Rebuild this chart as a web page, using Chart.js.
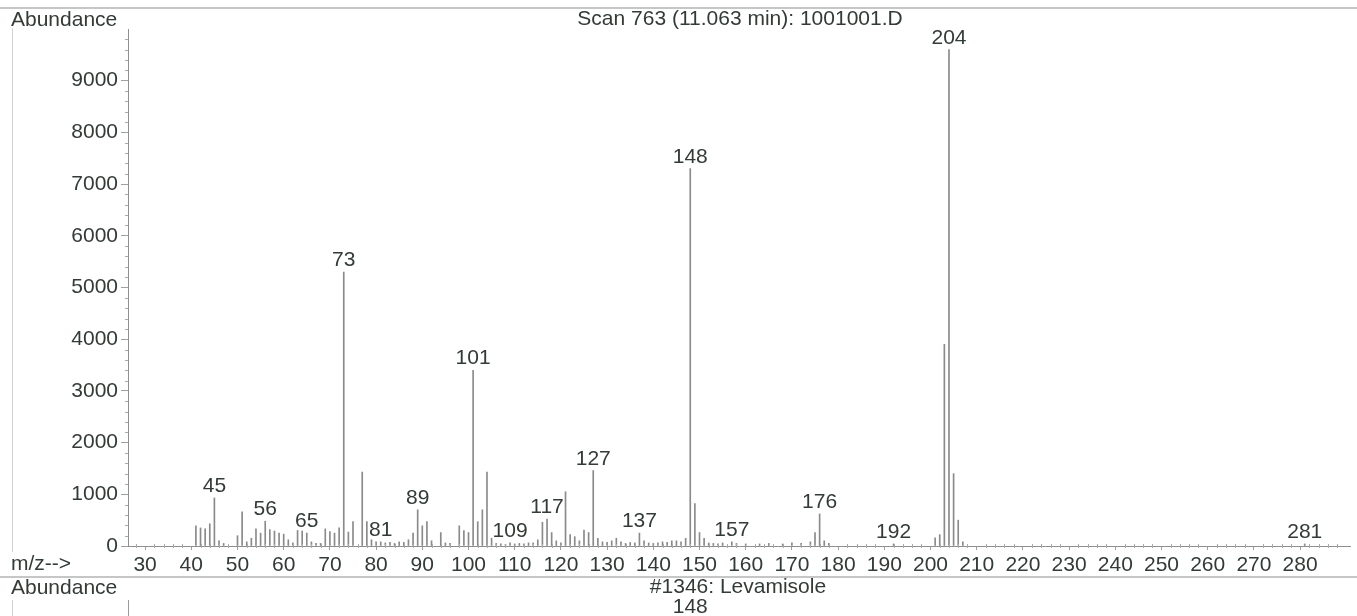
<!DOCTYPE html>
<html>
<head>
<meta charset="utf-8">
<title>Scan 763 (11.063 min): 1001001.D</title>
<script src="https://cdn.jsdelivr.net/npm/chart.js@4.4.1/dist/chart.umd.min.js"></script>
<style>
  html, body { margin: 0; padding: 0; background: #fff; }
  #wrap { position: relative; width: 1357px; height: 616px; }
</style>
</head>
<body>
<div id="wrap"><canvas id="specChart"></canvas></div>
<script>
// m/z values and abundances
const mzValues = [
  41, 42, 43, 44, 45, 46, 47, 50, 51, 52, 53, 54, 55, 56, 57, 58, 59, 60, 61, 62,
  63, 64, 65, 66, 67, 68, 69, 70, 71, 72, 73, 74, 75, 77, 78, 79, 80, 81, 82, 83,
  84, 85, 86, 87, 88, 89, 90, 91, 92, 94, 95, 96, 98, 99, 100, 101, 102, 103, 104, 105,
  106, 107, 108, 109, 110, 111, 112, 113, 114, 115, 116, 117, 118, 119, 120, 121, 122, 123, 124, 125,
  126, 127, 128, 129, 130, 131, 132, 133, 134, 135, 136, 137, 138, 139, 140, 141, 142, 143, 144, 145,
  146, 147, 148, 149, 150, 151, 152, 153, 154, 155, 157, 158, 160, 163, 165, 168, 170, 172, 174, 175,
  176, 177, 178, 192, 201, 202, 203, 204, 205, 206, 207, 281
];
const abundance = [
  390, 350, 330, 430, 930, 100, 50, 200, 660, 80, 150, 330, 250, 480, 320, 290, 250, 230, 120, 60,
  300, 290, 250, 80, 50, 50, 330, 280, 250, 350, 5300, 270, 470, 1430, 470, 120, 80, 80, 60, 70,
  50, 80, 70, 120, 250, 700, 390, 470, 100, 260, 60, 50, 390, 300, 260, 3400, 470, 700, 1430, 150,
  50, 40, 30, 60, 40, 50, 40, 60, 60, 120, 460, 520, 260, 100, 60, 1050, 220, 180, 100, 310,
  260, 1460, 150, 80, 70, 100, 150, 80, 50, 70, 60, 250, 100, 60, 50, 60, 80, 70, 100, 100,
  80, 150, 7300, 820, 260, 150, 60, 50, 40, 60, 80, 50, 40, 40, 50, 40, 60, 50, 80, 260,
  620, 100, 50, 40, 160, 220, 3900, 9600, 1400, 500, 80, 40
];
const labelledPeaks = [45, 56, 65, 73, 81, 89, 101, 109, 117, 127, 137, 148, 157, 176, 192, 204, 281];
const yTicks = [0, 1000, 2000, 3000, 4000, 5000, 6000, 7000, 8000, 9000];
const xTicks = [30, 40, 50, 60, 70, 80, 90, 100, 110, 120, 130, 140, 150, 160, 170, 180, 190, 200,
  210, 220, 230, 240, 250, 260, 270, 280];

const textColor = '#333b36';
const lineColor = '#8a8a8a';
const fontFamily = '"Liberation Sans", Arial, sans-serif';
const fontSize = 21;

// peak numbers, minor ticks and the page texts around the plot
const decorPlugin = {
  id: 'decor',
  afterDatasetsDraw(chart) {
    const ctx = chart.ctx;
    const xs = chart.scales.x, ys = chart.scales.y;
    const area = chart.chartArea;
    ctx.save();
    ctx.font = fontSize + 'px ' + fontFamily;
    ctx.fillStyle = textColor;
    ctx.textAlign = 'center';
    ctx.textBaseline = 'alphabetic';
    labelledPeaks.forEach(mz => {
      const i = mzValues.indexOf(mz);
      if (i < 0) return;
      const px = xs.getPixelForValue(mz);
      const py = ys.getPixelForValue(abundance[i]);
      ctx.fillText(String(mz), px, py - 6);
    });

    // minor ticks
    ctx.strokeStyle = '#aaaaaa';
    ctx.lineWidth = 1;
    ctx.beginPath();
    for (let v = 200; v < 10000; v += 200) {
      if (v % 1000 === 0) continue;
      const py = Math.round(ys.getPixelForValue(v)) + 0.5;
      ctx.moveTo(area.left - 3, py);
      ctx.lineTo(area.left, py);
    }
    for (let m = 28; m <= 290; m += 2) {
      if (m % 10 === 0) continue;
      const px = Math.round(xs.getPixelForValue(m)) + 0.5;
      ctx.moveTo(px, area.bottom - 2);
      ctx.lineTo(px, area.bottom + 2);
    }
    ctx.stroke();

    // frame lines
    ctx.strokeStyle = '#b4b4b4';
    ctx.lineWidth = 1.5;
    ctx.beginPath();
    ctx.moveTo(0, 8); ctx.lineTo(chart.width, 8);
    ctx.moveTo(0, 577); ctx.lineTo(chart.width, 577);
    ctx.stroke();
    ctx.strokeStyle = '#d2d2d2';
    ctx.lineWidth = 1;
    ctx.beginPath();
    ctx.moveTo(12.5, 28); ctx.lineTo(12.5, 552);
    ctx.moveTo(12.5, 600); ctx.lineTo(12.5, 616);
    ctx.stroke();
    ctx.strokeStyle = '#9a9a9a';
    ctx.beginPath();
    ctx.moveTo(area.left + 0.5, 600); ctx.lineTo(area.left + 0.5, 616);
    ctx.stroke();

    // texts
    ctx.textAlign = 'left';
    ctx.fillText('Abundance', 11, 26);
    ctx.fillText('m/z-->', 11, 570);
    ctx.fillText('Abundance', 11, 594);
    ctx.textAlign = 'center';
    ctx.fillText('Scan 763 (11.063 min): 1001001.D', 740, 25);
    ctx.fillText('#1346: Levamisole', 738, 593);
    ctx.fillText('148', xs.getPixelForValue(148), 613);
    ctx.restore();
  }
};

new Chart(document.getElementById('specChart'), {
  type: 'bar',
  data: {
    datasets: [{
      label: 'Abundance',
      data: mzValues.map((mz, i) => ({ x: mz, y: abundance[i] })),
      backgroundColor: lineColor,
      borderWidth: 0,
      barThickness: 1,
      grouped: false
    }]
  },
  options: {
    responsive: true,
    maintainAspectRatio: false,
    animation: false,
    layout: { padding: { top: 29, right: 7, left: 0, bottom: 0 } },
    plugins: {
      legend: { display: false },
      tooltip: { enabled: false }
    },
    scales: {
      x: {
        type: 'linear',
        offset: false,
        min: 26.3,
        max: 290.8,
        afterBuildTicks: s => { s.ticks = xTicks.map(v => ({ value: v })); },
        afterFit: s => { s.height = 70; },
        grid: { display: true, offset: false, drawOnChartArea: false, tickLength: 4, color: '#a0a0a0' },
        border: { color: '#8e8e8e' },
        ticks: {
          color: textColor,
          font: { family: fontFamily, size: fontSize },
          padding: 3,
          maxRotation: 0,
          autoSkip: false,
          callback: v => String(v)
        }
      },
      y: {
        min: 0,
        max: 10000,
        afterBuildTicks: s => { s.ticks = yTicks.map(v => ({ value: v })); },
        afterFit: s => { s.width = 128; },
        grid: { display: true, drawOnChartArea: false, tickLength: 7, color: '#a0a0a0' },
        border: { color: '#8e8e8e' },
        ticks: {
          color: textColor,
          font: { family: fontFamily, size: fontSize },
          padding: 3,
          callback: v => String(v)
        }
      }
    }
  },
  plugins: [decorPlugin]
});
</script>
</body>
</html>
